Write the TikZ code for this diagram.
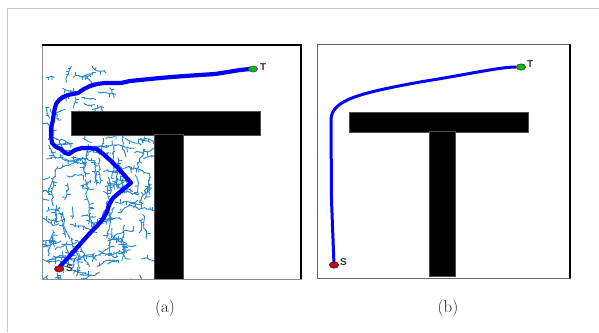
\documentclass[tikz,border=0pt]{standalone}
\usepackage{fontspec}
\usetikzlibrary{shapes.geometric}
\newfontfamily\lblfont{Liberation Sans}
\begin{document}
\begin{tikzpicture}[x=1pt,y=-1pt,
  outerline/.style={draw=black!22, line width=1pt},
  tbar/.style={fill=black, draw=black!70, line width=0.4pt},
  branch/.style={draw={rgb,255:red,40;green,135;blue,205}, line width=0.9pt},
  pathline/.style={draw={rgb,255:red,0;green,0;blue,255}, line width=4.2pt, line join=round, line cap=round},
  smooth path/.style={draw={rgb,255:red,0;green,0;blue,255}, line width=3pt, line cap=round},
  smark/.style={ellipse, inner sep=0pt, minimum width=9pt, minimum height=6pt, fill=red!85!black, draw=black!80, line width=0.7pt},
  tmark/.style={ellipse, inner sep=0pt, minimum width=9pt, minimum height=6pt, fill=green!75!black, draw=black!70, line width=0.7pt},
  lbl/.style={font=\lblfont\bfseries\fontsize{10}{10}\selectfont, text=black!80, inner sep=0pt},
  captext/.style={font=\fontsize{17}{17}\selectfont, text=black!85, inner sep=0pt}
]
\useasboundingbox (0,0) rectangle (599,332);
% outer frame
\draw[outerline] (599,8.5) -- (7,8.5) -- (7,332);

% ---------- panel (a) ----------
\fill[white] (42,45) rectangle (301,279);
\begin{scope}
  \clip (43,47) rectangle (154,278);
  \pgfmathsetseed{5}
  \foreach \i in {1,...,120}{
    \pgfmathsetmacro\bx{46+106*rnd}
    \pgfmathsetmacro\by{137+141*rnd}
    \pgfmathsetmacro\ang{90*floor(4*rnd)+20*rand}
    \pgfmathtruncatemacro\nn{4+floor(7*rnd)}
    \draw[branch] (\bx,\by) \foreach \k in {1,...,\nn}{
       -- ++({\ang+35*rand}:3)
       edge ++({\ang+90+180*round(rnd)+20*rand}:{max(0,5*rand)}) };
  }
  \foreach \i in {1,...,26}{
    \pgfmathsetmacro\bx{47+65*rnd}
    \pgfmathsetmacro\by{70+75*rnd}
    \pgfmathsetmacro\ang{90*floor(4*rnd)+20*rand}
    \pgfmathtruncatemacro\nn{3+floor(4*rnd)}
    \draw[branch] (\bx,\by) \foreach \k in {1,...,\nn}{
       -- ++({\ang+35*rand}:3)
       edge ++({\ang+90+180*round(rnd)}:{max(0,4*rand)}) };
  }
\end{scope}
% T obstacle (a)
\path[tbar] (71,111) rectangle (260,135);
\path[tbar] (154,134) rectangle (183,279);
% frame (a)
\draw[draw=black!45, line width=0.8pt] (42,45) rectangle (301,279);
\draw[line width=2pt] (42,45) -- (301,45) -- (301,279);
% path (a)
\draw[pathline] (58,269) -- (62,264) -- (68,258) -- (75,250) -- (82,242) -- (90,233) -- (97,226) -- (103,219) -- (107,212) -- (109,205) -- (113,198) -- (120,192) -- (126,187) -- (131,183) -- (125,176) -- (118,168) -- (110,160) -- (102,153) -- (97,149) -- (90,148) -- (82,148) -- (75,150) -- (69,154) -- (65,153) -- (61,149) -- (56,147) -- (52,143) -- (51,135) -- (51,128) -- (53,120) -- (54,112) -- (56,104) -- (59,100) -- (63,97) -- (68,95) -- (73,94) -- (78,93) -- (84,89) -- (90,86) -- (97,84) -- (105,83) -- (113,83) -- (121,83) -- (130,81) -- (140,80) -- (150,79) -- (160,78) -- (172,77) -- (185,76) -- (200,75) -- (215,74) -- (228,72) -- (240,70) -- (250,69) -- (253,69);
\node[smark] (sa) at (59,269) {};
\node[tmark] (ta) at (253,69) {};
\node[lbl, anchor=west] (sal) at (66,268) {S};
\node[lbl, anchor=west] (tal) at (260,67) {T};
\node[captext] (capa) at (165,308) {(a)};

% ---------- panel (b) ----------
\fill[white] (317,44) rectangle (570,278);
\path[tbar] (349,112) rectangle (528,132);
\path[tbar] (429,131) rectangle (455,276);
\draw[draw=black!60, line width=1pt] (317,44) rectangle (570,278);
\draw[line width=2pt] (570,44) -- (570,278);
\coordinate (bend) at (331,120);
\node[tmark] (tb) at (521,67) {};
\node[smark] (sb) at (334,265) {};
\draw[smooth path] (sb.center) -- (331.5,200) -- (bend) .. controls (331,100) and (360,93) .. (420,82) .. controls (470,74) and (500,67) .. (tb.west);
\node[smark] at (334,265) {};
\node[tmark] at (521,67) {};
\node[lbl, anchor=west] (sbl) at (340,262) {S};
\node[lbl, anchor=west] (tbl) at (527,64) {T};
\node[captext] (capb) at (448,308) {(b)};
\end{tikzpicture}
\end{document}
